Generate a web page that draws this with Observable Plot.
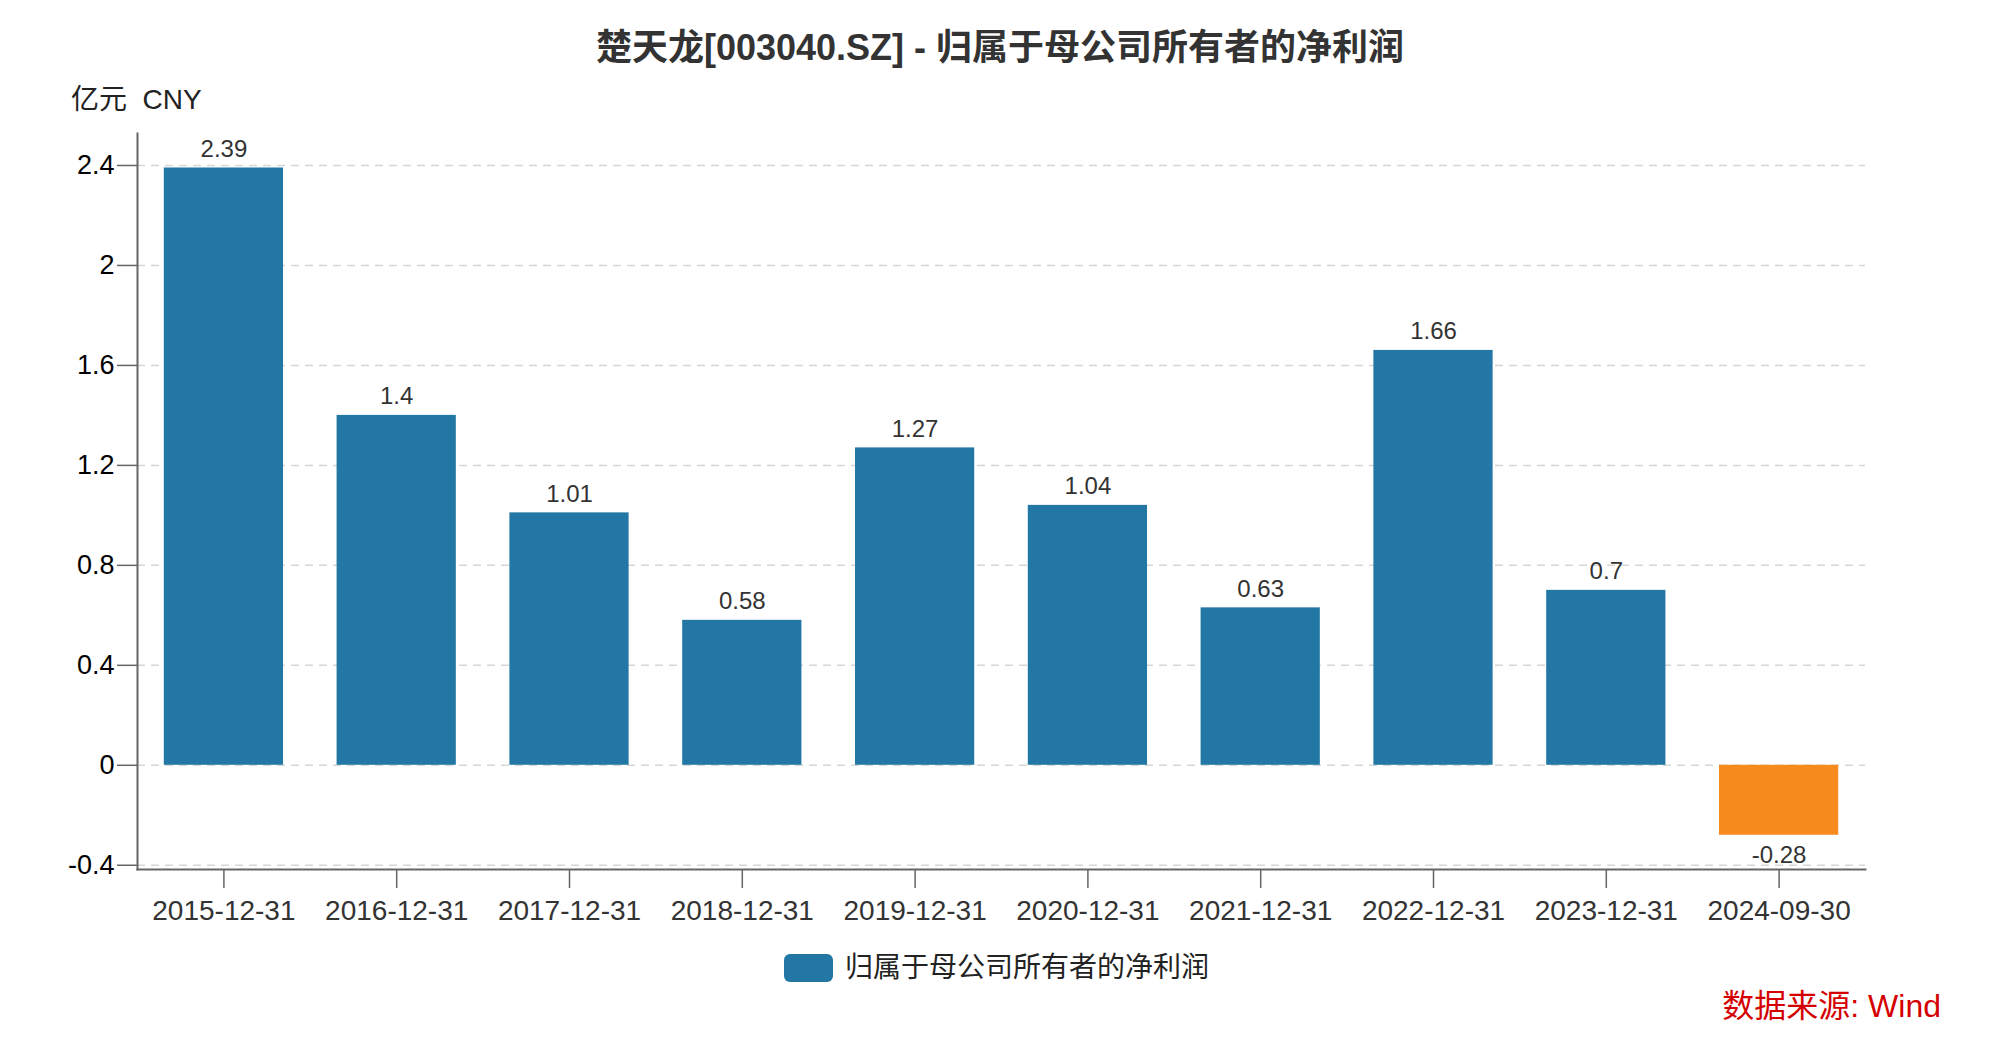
<!DOCTYPE html>
<html><head><meta charset="utf-8">
<script src="https://cdn.jsdelivr.net/npm/d3@7"></script>
<script src="https://cdn.jsdelivr.net/npm/@observablehq/plot@0.6"></script>
<style>
body{margin:0;background:#fff;font-family:"Liberation Sans","Noto Sans CJK SC",sans-serif;}
#wrap{width:2000px;height:1044px;position:relative;overflow:hidden;background:#fff;}
#head{position:relative;height:115px;}
#title{position:absolute;left:0;width:2000px;top:28px;text-align:center;font-size:36px;font-weight:bold;color:#333;line-height:40px;white-space:nowrap;}
#unit{position:absolute;left:71px;top:86px;font-size:28px;line-height:28px;color:#222;white-space:pre;}
#legend{position:relative;height:50px;}
#sw{position:absolute;left:784px;top:14px;width:49px;height:28px;border-radius:6px;background:#2377a4;}
#lt{position:absolute;left:845px;top:12px;font-size:28px;line-height:32px;color:#222;white-space:nowrap;}
#foot{position:relative;height:54px;}
#src{position:absolute;right:59px;top:-1px;font-size:32px;line-height:34px;color:#d40000;white-space:nowrap;}
</style>
</head><body>
<div id="wrap">
  <div id="head"><div id="title"></div><div id="unit"></div></div>
  <div id="chart"></div>
  <div id="legend"><div id="sw"></div><div id="lt"></div></div>
  <div id="foot"><div id="src"></div></div>
</div>
<script>
const titleText = "楚天龙[003040.SZ] - 归属于母公司所有者的净利润";
const unitText = "亿元  CNY";
const seriesName = "归属于母公司所有者的净利润";
const sourceText = "数据来源: Wind";
const dates = ["2015-12-31","2016-12-31","2017-12-31","2018-12-31","2019-12-31","2020-12-31","2021-12-31","2022-12-31","2023-12-31","2024-09-30"];
const values = [2.39, 1.4, 1.01, 0.58, 1.27, 1.04, 0.63, 1.66, 0.7, -0.28];
const yTicks = [-0.4, 0, 0.4, 0.8, 1.2, 1.6, 2, 2.4];
const yDomain = [-0.417, 2.528];

document.getElementById("title").textContent = titleText;
document.getElementById("unit").textContent = unitText;
document.getElementById("lt").textContent = seriesName;
document.getElementById("src").textContent = sourceText;

const data = dates.map((d, i) => ({date: d, value: values[i]}));
const BLUE = "#2377a4", ORANGE = "#f68a1c";

const chart = Plot.plot({
  width: 2000, height: 825,
  marginLeft: 137, marginRight: 135, marginTop: 18, marginBottom: 71,
  style: {fontFamily: '"Liberation Sans","Noto Sans CJK SC",sans-serif', fontSize: "27px", background: "transparent", overflow: "visible"},
  x: {domain: dates, paddingInner: 0.31, paddingOuter: 0.155, round: false, label: null},
  y: {domain: yDomain, label: null},
  color: {type: "identity"},
  marks: [
    Plot.gridY(yTicks, {stroke: "#d6d6d6", strokeOpacity: 1, strokeDasharray: "8,6", strokeWidth: 1.5}),
    Plot.barY(data, {x: "date", y: "value", fill: d => d.value < 0 ? ORANGE : BLUE}),
    Plot.text(data.filter(d => d.value >= 0), {x: "date", y: "value", text: d => String(d.value), lineAnchor: "bottom", dy: -11, fill: "#333", fontSize: 24}),
    Plot.text(data.filter(d => d.value < 0), {x: "date", y: "value", text: d => String(d.value), lineAnchor: "top", dy: 11, fill: "#333", fontSize: 24}),
    Plot.axisY(yTicks, {tickSize: 20, tickPadding: 3, stroke: "#666", fill: "#000", fontSize: 27, tickFormat: d => String(d), strokeWidth: 1.5}),
    Plot.axisX({tickSize: 19, tickPadding: 12, stroke: "#666", fill: "#333", fontSize: 28, strokeWidth: 1.5}),
    Plot.frame({anchor: "left", stroke: "#666", strokeWidth: 2}),
    Plot.frame({anchor: "bottom", stroke: "#666", strokeWidth: 2})
  ]
});
document.getElementById("chart").appendChild(chart);
</script>
</body></html>
